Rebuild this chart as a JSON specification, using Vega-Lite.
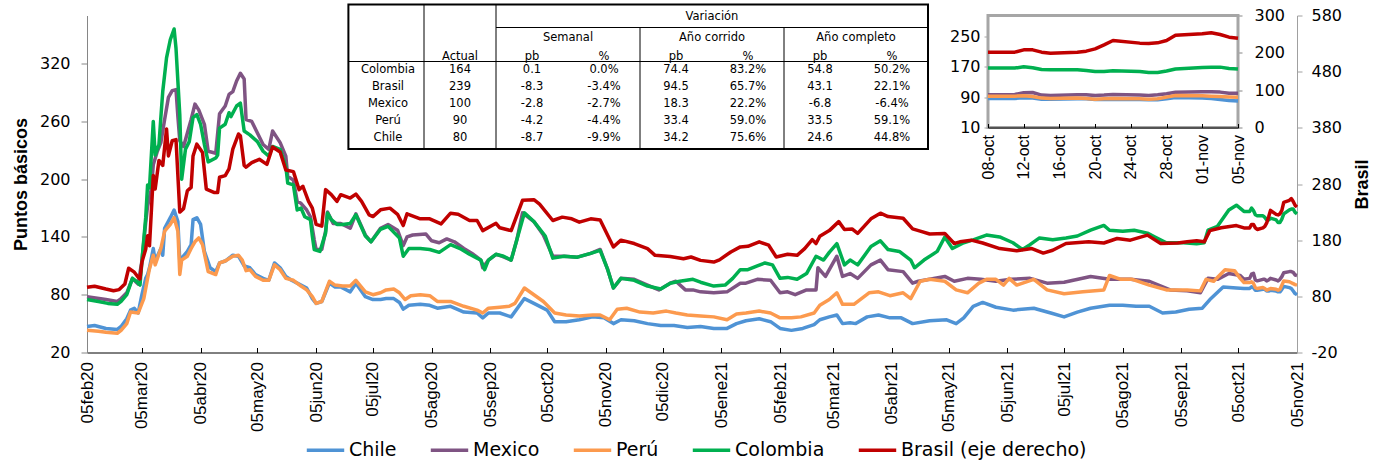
{
"$schema":"https://vega.github.io/schema/vega-lite/v6.json",
"width":1210,"height":337,
"autosize":{"type":"none"},
"padding":{"left":87,"top":15.5,"right":89,"bottom":111.5},
"background":"white",
"config":{"view":{"stroke":null},"font":"DejaVu Sans","axis":{"grid":false}},
"datasets":{
"cds":[
{"d":"2020-02-05","s":"Chile","v":47},{"d":"2020-02-09","s":"Chile","v":48},{"d":"2020-02-15","s":"Chile","v":45},{"d":"2020-02-21","s":"Chile","v":44},{"d":"2020-02-23","s":"Chile","v":47},{"d":"2020-02-26","s":"Chile","v":55},{"d":"2020-02-28","s":"Chile","v":64},{"d":"2020-03-01","s":"Chile","v":66},{"d":"2020-03-03","s":"Chile","v":61},{"d":"2020-03-05","s":"Chile","v":80},{"d":"2020-03-07","s":"Chile","v":97},{"d":"2020-03-08","s":"Chile","v":101},{"d":"2020-03-09","s":"Chile","v":108},{"d":"2020-03-11","s":"Chile","v":128},{"d":"2020-03-12","s":"Chile","v":115},{"d":"2020-03-15","s":"Chile","v":128},{"d":"2020-03-16","s":"Chile","v":121},{"d":"2020-03-17","s":"Chile","v":149},{"d":"2020-03-20","s":"Chile","v":160},{"d":"2020-03-22","s":"Chile","v":168},{"d":"2020-03-24","s":"Chile","v":156},{"d":"2020-03-25","s":"Chile","v":115},{"d":"2020-03-26","s":"Chile","v":118},{"d":"2020-03-29","s":"Chile","v":125},{"d":"2020-03-31","s":"Chile","v":132},{"d":"2020-04-01","s":"Chile","v":158},{"d":"2020-04-03","s":"Chile","v":160},{"d":"2020-04-05","s":"Chile","v":153},{"d":"2020-04-07","s":"Chile","v":125},{"d":"2020-04-10","s":"Chile","v":108},{"d":"2020-04-13","s":"Chile","v":104},{"d":"2020-04-15","s":"Chile","v":113},{"d":"2020-04-18","s":"Chile","v":115},{"d":"2020-04-20","s":"Chile","v":118},{"d":"2020-04-22","s":"Chile","v":121},{"d":"2020-04-25","s":"Chile","v":120},{"d":"2020-04-28","s":"Chile","v":110},{"d":"2020-05-01","s":"Chile","v":108},{"d":"2020-05-04","s":"Chile","v":101},{"d":"2020-05-08","s":"Chile","v":97},{"d":"2020-05-11","s":"Chile","v":95},{"d":"2020-05-14","s":"Chile","v":113},{"d":"2020-05-17","s":"Chile","v":108},{"d":"2020-05-20","s":"Chile","v":99},{"d":"2020-05-23","s":"Chile","v":95},{"d":"2020-05-26","s":"Chile","v":92},{"d":"2020-05-28","s":"Chile","v":90},{"d":"2020-05-31","s":"Chile","v":87},{"d":"2020-06-03","s":"Chile","v":76},{"d":"2020-06-05","s":"Chile","v":71},{"d":"2020-06-08","s":"Chile","v":73},{"d":"2020-06-12","s":"Chile","v":92},{"d":"2020-06-15","s":"Chile","v":88},{"d":"2020-06-18","s":"Chile","v":88},{"d":"2020-06-23","s":"Chile","v":83},{"d":"2020-06-26","s":"Chile","v":92},{"d":"2020-07-01","s":"Chile","v":78},{"d":"2020-07-05","s":"Chile","v":75},{"d":"2020-07-09","s":"Chile","v":75},{"d":"2020-07-12","s":"Chile","v":76},{"d":"2020-07-16","s":"Chile","v":76},{"d":"2020-07-19","s":"Chile","v":72},{"d":"2020-07-21","s":"Chile","v":65},{"d":"2020-07-24","s":"Chile","v":69},{"d":"2020-07-30","s":"Chile","v":70},{"d":"2020-08-04","s":"Chile","v":69},{"d":"2020-08-08","s":"Chile","v":66},{"d":"2020-08-15","s":"Chile","v":68},{"d":"2020-08-22","s":"Chile","v":62},{"d":"2020-08-29","s":"Chile","v":61},{"d":"2020-09-01","s":"Chile","v":56},{"d":"2020-09-04","s":"Chile","v":61},{"d":"2020-09-10","s":"Chile","v":61},{"d":"2020-09-16","s":"Chile","v":57},{"d":"2020-09-23","s":"Chile","v":76},{"d":"2020-09-28","s":"Chile","v":71},{"d":"2020-10-05","s":"Chile","v":64},{"d":"2020-10-09","s":"Chile","v":52},{"d":"2020-10-15","s":"Chile","v":52},{"d":"2020-10-22","s":"Chile","v":54},{"d":"2020-10-29","s":"Chile","v":57},{"d":"2020-11-04","s":"Chile","v":56},{"d":"2020-11-09","s":"Chile","v":50},{"d":"2020-11-13","s":"Chile","v":54},{"d":"2020-11-20","s":"Chile","v":53},{"d":"2020-11-27","s":"Chile","v":50},{"d":"2020-12-04","s":"Chile","v":48},{"d":"2020-12-11","s":"Chile","v":48},{"d":"2020-12-18","s":"Chile","v":46},{"d":"2020-12-25","s":"Chile","v":47},{"d":"2021-01-01","s":"Chile","v":45},{"d":"2021-01-08","s":"Chile","v":45},{"d":"2021-01-13","s":"Chile","v":50},{"d":"2021-01-18","s":"Chile","v":53},{"d":"2021-01-25","s":"Chile","v":55},{"d":"2021-01-31","s":"Chile","v":52},{"d":"2021-02-05","s":"Chile","v":45},{"d":"2021-02-11","s":"Chile","v":43},{"d":"2021-02-17","s":"Chile","v":45},{"d":"2021-02-23","s":"Chile","v":49},{"d":"2021-02-26","s":"Chile","v":54},{"d":"2021-03-03","s":"Chile","v":57},{"d":"2021-03-07","s":"Chile","v":59},{"d":"2021-03-10","s":"Chile","v":50},{"d":"2021-03-14","s":"Chile","v":51},{"d":"2021-03-17","s":"Chile","v":50},{"d":"2021-03-23","s":"Chile","v":57},{"d":"2021-03-29","s":"Chile","v":59},{"d":"2021-04-04","s":"Chile","v":56},{"d":"2021-04-10","s":"Chile","v":56},{"d":"2021-04-16","s":"Chile","v":50},{"d":"2021-04-25","s":"Chile","v":53},{"d":"2021-05-04","s":"Chile","v":54},{"d":"2021-05-09","s":"Chile","v":50},{"d":"2021-05-13","s":"Chile","v":56},{"d":"2021-05-18","s":"Chile","v":68},{"d":"2021-05-23","s":"Chile","v":72},{"d":"2021-05-30","s":"Chile","v":67},{"d":"2021-06-08","s":"Chile","v":64},{"d":"2021-06-19","s":"Chile","v":66},{"d":"2021-06-28","s":"Chile","v":61},{"d":"2021-07-05","s":"Chile","v":57},{"d":"2021-07-12","s":"Chile","v":62},{"d":"2021-07-19","s":"Chile","v":66},{"d":"2021-07-29","s":"Chile","v":69},{"d":"2021-08-05","s":"Chile","v":69},{"d":"2021-08-12","s":"Chile","v":68},{"d":"2021-08-19","s":"Chile","v":68},{"d":"2021-08-26","s":"Chile","v":61},{"d":"2021-09-02","s":"Chile","v":62},{"d":"2021-09-09","s":"Chile","v":65},{"d":"2021-09-16","s":"Chile","v":66},{"d":"2021-09-20","s":"Chile","v":75},{"d":"2021-09-27","s":"Chile","v":88},{"d":"2021-10-04","s":"Chile","v":87},
{"d":"2021-10-08","s":"Chile","v":86.5},{"d":"2021-10-11","s":"Chile","v":86.5},{"d":"2021-10-12","s":"Chile","v":88.2},{"d":"2021-10-13","s":"Chile","v":87.4},{"d":"2021-10-14","s":"Chile","v":84.7},{"d":"2021-10-15","s":"Chile","v":84.7},{"d":"2021-10-18","s":"Chile","v":85.6},{"d":"2021-10-19","s":"Chile","v":85.6},{"d":"2021-10-20","s":"Chile","v":83.8},{"d":"2021-10-21","s":"Chile","v":83.8},{"d":"2021-10-22","s":"Chile","v":84.7},{"d":"2021-10-25","s":"Chile","v":83.8},{"d":"2021-10-26","s":"Chile","v":83},{"d":"2021-10-27","s":"Chile","v":83},{"d":"2021-10-28","s":"Chile","v":85.6},{"d":"2021-10-29","s":"Chile","v":88.7},{"d":"2021-11-01","s":"Chile","v":87.4},{"d":"2021-11-02","s":"Chile","v":86.5},{"d":"2021-11-03","s":"Chile","v":83.8},{"d":"2021-11-04","s":"Chile","v":81.2},{"d":"2021-11-05","s":"Chile","v":80},
{"d":"2020-02-05","s":"Mexico","v":78},{"d":"2020-02-15","s":"Mexico","v":75},{"d":"2020-02-21","s":"Mexico","v":73},{"d":"2020-02-23","s":"Mexico","v":76},{"d":"2020-02-26","s":"Mexico","v":82},{"d":"2020-02-29","s":"Mexico","v":97},{"d":"2020-03-02","s":"Mexico","v":93},{"d":"2020-03-03","s":"Mexico","v":91},{"d":"2020-03-05","s":"Mexico","v":115},{"d":"2020-03-07","s":"Mexico","v":155},{"d":"2020-03-08","s":"Mexico","v":172},{"d":"2020-03-10","s":"Mexico","v":190},{"d":"2020-03-11","s":"Mexico","v":215},{"d":"2020-03-13","s":"Mexico","v":228},{"d":"2020-03-15","s":"Mexico","v":238},{"d":"2020-03-17","s":"Mexico","v":262},{"d":"2020-03-19","s":"Mexico","v":285},{"d":"2020-03-21","s":"Mexico","v":292},{"d":"2020-03-23","s":"Mexico","v":293},{"d":"2020-03-24","s":"Mexico","v":265},{"d":"2020-03-25","s":"Mexico","v":240},{"d":"2020-03-27","s":"Mexico","v":234},{"d":"2020-03-31","s":"Mexico","v":262},{"d":"2020-04-02","s":"Mexico","v":278},{"d":"2020-04-04","s":"Mexico","v":272},{"d":"2020-04-07","s":"Mexico","v":257},{"d":"2020-04-09","s":"Mexico","v":229},{"d":"2020-04-13","s":"Mexico","v":227},{"d":"2020-04-15","s":"Mexico","v":268},{"d":"2020-04-18","s":"Mexico","v":276},{"d":"2020-04-20","s":"Mexico","v":288},{"d":"2020-04-22","s":"Mexico","v":291},{"d":"2020-04-24","s":"Mexico","v":302},{"d":"2020-04-26","s":"Mexico","v":310},{"d":"2020-04-28","s":"Mexico","v":304},{"d":"2020-04-29","s":"Mexico","v":262},{"d":"2020-05-02","s":"Mexico","v":260},{"d":"2020-05-05","s":"Mexico","v":248},{"d":"2020-05-08","s":"Mexico","v":236},{"d":"2020-05-11","s":"Mexico","v":231},{"d":"2020-05-13","s":"Mexico","v":250},{"d":"2020-05-17","s":"Mexico","v":238},{"d":"2020-05-20","s":"Mexico","v":224},{"d":"2020-05-21","s":"Mexico","v":203},{"d":"2020-05-24","s":"Mexico","v":199},{"d":"2020-05-26","s":"Mexico","v":177},{"d":"2020-05-28","s":"Mexico","v":175},{"d":"2020-05-31","s":"Mexico","v":168},{"d":"2020-06-02","s":"Mexico","v":161},{"d":"2020-06-04","s":"Mexico","v":137},{"d":"2020-06-05","s":"Mexico","v":127},{"d":"2020-06-08","s":"Mexico","v":127},{"d":"2020-06-10","s":"Mexico","v":146},{"d":"2020-06-11","s":"Mexico","v":166},{"d":"2020-06-14","s":"Mexico","v":154},{"d":"2020-06-18","s":"Mexico","v":154},{"d":"2020-06-23","s":"Mexico","v":149},{"d":"2020-06-26","s":"Mexico","v":164},{"d":"2020-07-01","s":"Mexico","v":142},{"d":"2020-07-04","s":"Mexico","v":135},{"d":"2020-07-09","s":"Mexico","v":149},{"d":"2020-07-13","s":"Mexico","v":153},{"d":"2020-07-18","s":"Mexico","v":147},{"d":"2020-07-21","s":"Mexico","v":131},{"d":"2020-07-23","s":"Mexico","v":140},{"d":"2020-07-26","s":"Mexico","v":142},{"d":"2020-08-02","s":"Mexico","v":143},{"d":"2020-08-05","s":"Mexico","v":136},{"d":"2020-08-09","s":"Mexico","v":134},{"d":"2020-08-13","s":"Mexico","v":138},{"d":"2020-08-17","s":"Mexico","v":135},{"d":"2020-08-22","s":"Mexico","v":128},{"d":"2020-08-27","s":"Mexico","v":122},{"d":"2020-08-31","s":"Mexico","v":116},{"d":"2020-09-01","s":"Mexico","v":108},{"d":"2020-09-04","s":"Mexico","v":116},{"d":"2020-09-08","s":"Mexico","v":122},{"d":"2020-09-11","s":"Mexico","v":120},{"d":"2020-09-16","s":"Mexico","v":116},{"d":"2020-09-19","s":"Mexico","v":137},{"d":"2020-09-22","s":"Mexico","v":165},{"d":"2020-09-28","s":"Mexico","v":156},{"d":"2020-10-03","s":"Mexico","v":142},{"d":"2020-10-08","s":"Mexico","v":120},{"d":"2020-10-14","s":"Mexico","v":120},{"d":"2020-10-21","s":"Mexico","v":119},{"d":"2020-10-28","s":"Mexico","v":123},{"d":"2020-11-02","s":"Mexico","v":127},{"d":"2020-11-06","s":"Mexico","v":106},{"d":"2020-11-09","s":"Mexico","v":87},{"d":"2020-11-13","s":"Mexico","v":97},{"d":"2020-11-20","s":"Mexico","v":96},{"d":"2020-11-27","s":"Mexico","v":90},{"d":"2020-12-03","s":"Mexico","v":85},{"d":"2020-12-09","s":"Mexico","v":92},{"d":"2020-12-12","s":"Mexico","v":94},{"d":"2020-12-17","s":"Mexico","v":85},{"d":"2020-12-21","s":"Mexico","v":85},{"d":"2020-12-25","s":"Mexico","v":83},{"d":"2021-01-01","s":"Mexico","v":82},{"d":"2021-01-08","s":"Mexico","v":83},{"d":"2021-01-15","s":"Mexico","v":92},{"d":"2021-01-18","s":"Mexico","v":92},{"d":"2021-01-24","s":"Mexico","v":96},{"d":"2021-01-31","s":"Mexico","v":95},{"d":"2021-02-05","s":"Mexico","v":82},{"d":"2021-02-09","s":"Mexico","v":83},{"d":"2021-02-13","s":"Mexico","v":80},{"d":"2021-02-19","s":"Mexico","v":85},{"d":"2021-02-24","s":"Mexico","v":85},{"d":"2021-02-25","s":"Mexico","v":108},{"d":"2021-03-01","s":"Mexico","v":99},{"d":"2021-03-07","s":"Mexico","v":120},{"d":"2021-03-10","s":"Mexico","v":99},{"d":"2021-03-14","s":"Mexico","v":102},{"d":"2021-03-18","s":"Mexico","v":97},{"d":"2021-03-25","s":"Mexico","v":111},{"d":"2021-03-30","s":"Mexico","v":116},{"d":"2021-04-03","s":"Mexico","v":106},{"d":"2021-04-11","s":"Mexico","v":104},{"d":"2021-04-16","s":"Mexico","v":92},{"d":"2021-04-19","s":"Mexico","v":94},{"d":"2021-04-25","s":"Mexico","v":96},{"d":"2021-05-03","s":"Mexico","v":99},{"d":"2021-05-08","s":"Mexico","v":94},{"d":"2021-05-15","s":"Mexico","v":97},{"d":"2021-05-22","s":"Mexico","v":96},{"d":"2021-05-30","s":"Mexico","v":94},{"d":"2021-06-07","s":"Mexico","v":96},{"d":"2021-06-17","s":"Mexico","v":97},{"d":"2021-06-26","s":"Mexico","v":92},{"d":"2021-07-05","s":"Mexico","v":93},{"d":"2021-07-19","s":"Mexico","v":99},{"d":"2021-07-29","s":"Mexico","v":96},{"d":"2021-08-09","s":"Mexico","v":96},{"d":"2021-08-19","s":"Mexico","v":94},{"d":"2021-08-30","s":"Mexico","v":85},{"d":"2021-09-08","s":"Mexico","v":84},{"d":"2021-09-15","s":"Mexico","v":82},{"d":"2021-09-19","s":"Mexico","v":97},{"d":"2021-09-24","s":"Mexico","v":96},{"d":"2021-09-30","s":"Mexico","v":102},{"d":"2021-10-06","s":"Mexico","v":100},
{"d":"2021-10-08","s":"Mexico","v":96},{"d":"2021-10-11","s":"Mexico","v":97},{"d":"2021-10-12","s":"Mexico","v":101.4},{"d":"2021-10-13","s":"Mexico","v":102.3},{"d":"2021-10-14","s":"Mexico","v":95.3},{"d":"2021-10-15","s":"Mexico","v":94.4},{"d":"2021-10-18","s":"Mexico","v":96},{"d":"2021-10-19","s":"Mexico","v":96},{"d":"2021-10-20","s":"Mexico","v":94.4},{"d":"2021-10-21","s":"Mexico","v":95.3},{"d":"2021-10-22","s":"Mexico","v":97},{"d":"2021-10-25","s":"Mexico","v":95.3},{"d":"2021-10-26","s":"Mexico","v":94.4},{"d":"2021-10-27","s":"Mexico","v":96},{"d":"2021-10-28","s":"Mexico","v":98.8},{"d":"2021-10-29","s":"Mexico","v":102.8},{"d":"2021-11-01","s":"Mexico","v":104},{"d":"2021-11-02","s":"Mexico","v":104},{"d":"2021-11-03","s":"Mexico","v":103.2},{"d":"2021-11-04","s":"Mexico","v":100.5},{"d":"2021-11-05","s":"Mexico","v":100},
{"d":"2020-02-05","s":"Perú","v":43},{"d":"2020-02-11","s":"Perú","v":42},{"d":"2020-02-15","s":"Perú","v":41},{"d":"2020-02-21","s":"Perú","v":40},{"d":"2020-02-23","s":"Perú","v":43},{"d":"2020-02-26","s":"Perú","v":50},{"d":"2020-02-28","s":"Perú","v":62},{"d":"2020-03-03","s":"Perú","v":61},{"d":"2020-03-06","s":"Perú","v":76},{"d":"2020-03-08","s":"Perú","v":97},{"d":"2020-03-09","s":"Perú","v":107},{"d":"2020-03-11","s":"Perú","v":121},{"d":"2020-03-12","s":"Perú","v":111},{"d":"2020-03-15","s":"Perú","v":128},{"d":"2020-03-17","s":"Perú","v":146},{"d":"2020-03-20","s":"Perú","v":153},{"d":"2020-03-22","s":"Perú","v":160},{"d":"2020-03-24","s":"Perú","v":146},{"d":"2020-03-25","s":"Perú","v":101},{"d":"2020-03-26","s":"Perú","v":116},{"d":"2020-03-29","s":"Perú","v":120},{"d":"2020-03-31","s":"Perú","v":128},{"d":"2020-04-02","s":"Perú","v":135},{"d":"2020-04-04","s":"Perú","v":139},{"d":"2020-04-06","s":"Perú","v":132},{"d":"2020-04-09","s":"Perú","v":104},{"d":"2020-04-13","s":"Perú","v":101},{"d":"2020-04-15","s":"Perú","v":113},{"d":"2020-04-18","s":"Perú","v":115},{"d":"2020-04-22","s":"Perú","v":120},{"d":"2020-04-25","s":"Perú","v":121},{"d":"2020-04-27","s":"Perú","v":116},{"d":"2020-04-29","s":"Perú","v":105},{"d":"2020-05-01","s":"Perú","v":106},{"d":"2020-05-04","s":"Perú","v":99},{"d":"2020-05-08","s":"Perú","v":95},{"d":"2020-05-11","s":"Perú","v":95},{"d":"2020-05-14","s":"Perú","v":111},{"d":"2020-05-17","s":"Perú","v":106},{"d":"2020-05-20","s":"Perú","v":97},{"d":"2020-05-24","s":"Perú","v":95},{"d":"2020-05-28","s":"Perú","v":89},{"d":"2020-05-31","s":"Perú","v":85},{"d":"2020-06-03","s":"Perú","v":78},{"d":"2020-06-05","s":"Perú","v":71},{"d":"2020-06-08","s":"Perú","v":73},{"d":"2020-06-12","s":"Perú","v":94},{"d":"2020-06-15","s":"Perú","v":90},{"d":"2020-06-19","s":"Perú","v":89},{"d":"2020-06-23","s":"Perú","v":89},{"d":"2020-06-26","s":"Perú","v":95},{"d":"2020-07-01","s":"Perú","v":83},{"d":"2020-07-05","s":"Perú","v":80},{"d":"2020-07-09","s":"Perú","v":82},{"d":"2020-07-12","s":"Perú","v":85},{"d":"2020-07-16","s":"Perú","v":86},{"d":"2020-07-19","s":"Perú","v":82},{"d":"2020-07-22","s":"Perú","v":75},{"d":"2020-07-25","s":"Perú","v":79},{"d":"2020-07-30","s":"Perú","v":80},{"d":"2020-08-04","s":"Perú","v":79},{"d":"2020-08-08","s":"Perú","v":73},{"d":"2020-08-15","s":"Perú","v":73},{"d":"2020-08-22","s":"Perú","v":68},{"d":"2020-08-29","s":"Perú","v":64},{"d":"2020-09-01","s":"Perú","v":61},{"d":"2020-09-04","s":"Perú","v":66},{"d":"2020-09-10","s":"Perú","v":67},{"d":"2020-09-15","s":"Perú","v":68},{"d":"2020-09-18","s":"Perú","v":71},{"d":"2020-09-23","s":"Perú","v":87},{"d":"2020-09-28","s":"Perú","v":80},{"d":"2020-10-03","s":"Perú","v":73},{"d":"2020-10-09","s":"Perú","v":61},{"d":"2020-10-15","s":"Perú","v":59},{"d":"2020-10-22","s":"Perú","v":58},{"d":"2020-10-29","s":"Perú","v":59},{"d":"2020-11-02","s":"Perú","v":59},{"d":"2020-11-07","s":"Perú","v":54},{"d":"2020-11-11","s":"Perú","v":65},{"d":"2020-11-16","s":"Perú","v":66},{"d":"2020-11-23","s":"Perú","v":62},{"d":"2020-11-30","s":"Perú","v":61},{"d":"2020-12-07","s":"Perú","v":63},{"d":"2020-12-12","s":"Perú","v":61},{"d":"2020-12-18","s":"Perú","v":59},{"d":"2020-12-25","s":"Perú","v":58},{"d":"2021-01-01","s":"Perú","v":57},{"d":"2021-01-08","s":"Perú","v":54},{"d":"2021-01-13","s":"Perú","v":60},{"d":"2021-01-18","s":"Perú","v":61},{"d":"2021-01-25","s":"Perú","v":63},{"d":"2021-01-31","s":"Perú","v":61},{"d":"2021-02-05","s":"Perú","v":56},{"d":"2021-02-11","s":"Perú","v":56},{"d":"2021-02-16","s":"Perú","v":57},{"d":"2021-02-23","s":"Perú","v":61},{"d":"2021-02-26","s":"Perú","v":69},{"d":"2021-03-03","s":"Perú","v":75},{"d":"2021-03-07","s":"Perú","v":82},{"d":"2021-03-10","s":"Perú","v":70},{"d":"2021-03-16","s":"Perú","v":70},{"d":"2021-03-24","s":"Perú","v":82},{"d":"2021-03-29","s":"Perú","v":83},{"d":"2021-04-04","s":"Perú","v":79},{"d":"2021-04-11","s":"Perú","v":82},{"d":"2021-04-15","s":"Perú","v":76},{"d":"2021-04-20","s":"Perú","v":94},{"d":"2021-04-25","s":"Perú","v":96},{"d":"2021-05-03","s":"Perú","v":94},{"d":"2021-05-09","s":"Perú","v":85},{"d":"2021-05-15","s":"Perú","v":82},{"d":"2021-05-21","s":"Perú","v":92},{"d":"2021-05-25","s":"Perú","v":96},{"d":"2021-05-30","s":"Perú","v":96},{"d":"2021-06-03","s":"Perú","v":90},{"d":"2021-06-06","s":"Perú","v":97},{"d":"2021-06-10","s":"Perú","v":90},{"d":"2021-06-19","s":"Perú","v":96},{"d":"2021-06-26","s":"Perú","v":85},{"d":"2021-07-05","s":"Perú","v":81},{"d":"2021-07-15","s":"Perú","v":83},{"d":"2021-07-26","s":"Perú","v":85},{"d":"2021-07-29","s":"Perú","v":100},{"d":"2021-08-04","s":"Perú","v":96},{"d":"2021-08-10","s":"Perú","v":96},{"d":"2021-08-19","s":"Perú","v":90},{"d":"2021-08-28","s":"Perú","v":85},{"d":"2021-09-08","s":"Perú","v":85},{"d":"2021-09-15","s":"Perú","v":84},{"d":"2021-09-18","s":"Perú","v":96},{"d":"2021-09-22","s":"Perú","v":94},{"d":"2021-09-28","s":"Perú","v":106},{"d":"2021-10-03","s":"Perú","v":105},{"d":"2021-10-06","s":"Perú","v":97},
{"d":"2021-10-08","s":"Perú","v":92.6},{"d":"2021-10-11","s":"Perú","v":92.6},{"d":"2021-10-12","s":"Perú","v":93.5},{"d":"2021-10-13","s":"Perú","v":91.8},{"d":"2021-10-14","s":"Perú","v":87.4},{"d":"2021-10-15","s":"Perú","v":86.5},{"d":"2021-10-18","s":"Perú","v":87.4},{"d":"2021-10-19","s":"Perú","v":86.5},{"d":"2021-10-20","s":"Perú","v":84.7},{"d":"2021-10-21","s":"Perú","v":85.6},{"d":"2021-10-22","s":"Perú","v":86.5},{"d":"2021-10-25","s":"Perú","v":85.6},{"d":"2021-10-26","s":"Perú","v":84.7},{"d":"2021-10-27","s":"Perú","v":85.6},{"d":"2021-10-28","s":"Perú","v":90},{"d":"2021-10-29","s":"Perú","v":94.2},{"d":"2021-11-01","s":"Perú","v":93.5},{"d":"2021-11-02","s":"Perú","v":92.5},{"d":"2021-11-03","s":"Perú","v":91.5},{"d":"2021-11-04","s":"Perú","v":90.5},{"d":"2021-11-05","s":"Perú","v":90},
{"d":"2020-02-05","s":"Colombia","v":75},{"d":"2020-02-11","s":"Colombia","v":73},{"d":"2020-02-16","s":"Colombia","v":71},{"d":"2020-02-21","s":"Colombia","v":70},{"d":"2020-02-23","s":"Colombia","v":73},{"d":"2020-02-26","s":"Colombia","v":80},{"d":"2020-02-29","s":"Colombia","v":97},{"d":"2020-03-02","s":"Colombia","v":94},{"d":"2020-03-04","s":"Colombia","v":90},{"d":"2020-03-05","s":"Colombia","v":115},{"d":"2020-03-07","s":"Colombia","v":160},{"d":"2020-03-08","s":"Colombia","v":194},{"d":"2020-03-09","s":"Colombia","v":191},{"d":"2020-03-11","s":"Colombia","v":260},{"d":"2020-03-12","s":"Colombia","v":225},{"d":"2020-03-14","s":"Colombia","v":236},{"d":"2020-03-15","s":"Colombia","v":264},{"d":"2020-03-16","s":"Colombia","v":291},{"d":"2020-03-18","s":"Colombia","v":326},{"d":"2020-03-20","s":"Colombia","v":345},{"d":"2020-03-22","s":"Colombia","v":356},{"d":"2020-03-23","s":"Colombia","v":336},{"d":"2020-03-25","s":"Colombia","v":267},{"d":"2020-03-26","s":"Colombia","v":200},{"d":"2020-03-28","s":"Colombia","v":231},{"d":"2020-03-30","s":"Colombia","v":239},{"d":"2020-04-01","s":"Colombia","v":264},{"d":"2020-04-03","s":"Colombia","v":267},{"d":"2020-04-05","s":"Colombia","v":257},{"d":"2020-04-07","s":"Colombia","v":236},{"d":"2020-04-09","s":"Colombia","v":218},{"d":"2020-04-13","s":"Colombia","v":222},{"d":"2020-04-14","s":"Colombia","v":225},{"d":"2020-04-15","s":"Colombia","v":253},{"d":"2020-04-18","s":"Colombia","v":257},{"d":"2020-04-20","s":"Colombia","v":269},{"d":"2020-04-21","s":"Colombia","v":265},{"d":"2020-04-24","s":"Colombia","v":276},{"d":"2020-04-26","s":"Colombia","v":279},{"d":"2020-04-28","s":"Colombia","v":250},{"d":"2020-05-01","s":"Colombia","v":246},{"d":"2020-05-05","s":"Colombia","v":239},{"d":"2020-05-08","s":"Colombia","v":229},{"d":"2020-05-11","s":"Colombia","v":224},{"d":"2020-05-13","s":"Colombia","v":234},{"d":"2020-05-17","s":"Colombia","v":231},{"d":"2020-05-20","s":"Colombia","v":213},{"d":"2020-05-21","s":"Colombia","v":196},{"d":"2020-05-24","s":"Colombia","v":194},{"d":"2020-05-26","s":"Colombia","v":168},{"d":"2020-05-28","s":"Colombia","v":170},{"d":"2020-05-30","s":"Colombia","v":161},{"d":"2020-06-02","s":"Colombia","v":158},{"d":"2020-06-03","s":"Colombia","v":141},{"d":"2020-06-04","s":"Colombia","v":127},{"d":"2020-06-07","s":"Colombia","v":125},{"d":"2020-06-10","s":"Colombia","v":144},{"d":"2020-06-11","s":"Colombia","v":165},{"d":"2020-06-13","s":"Colombia","v":158},{"d":"2020-06-16","s":"Colombia","v":153},{"d":"2020-06-19","s":"Colombia","v":153},{"d":"2020-06-23","s":"Colombia","v":154},{"d":"2020-06-26","s":"Colombia","v":163},{"d":"2020-07-01","s":"Colombia","v":141},{"d":"2020-07-04","s":"Colombia","v":135},{"d":"2020-07-09","s":"Colombia","v":148},{"d":"2020-07-13","s":"Colombia","v":151},{"d":"2020-07-18","s":"Colombia","v":141},{"d":"2020-07-19","s":"Colombia","v":139},{"d":"2020-07-21","s":"Colombia","v":120},{"d":"2020-07-24","s":"Colombia","v":128},{"d":"2020-07-30","s":"Colombia","v":128},{"d":"2020-08-04","s":"Colombia","v":127},{"d":"2020-08-09","s":"Colombia","v":124},{"d":"2020-08-15","s":"Colombia","v":132},{"d":"2020-08-20","s":"Colombia","v":128},{"d":"2020-08-25","s":"Colombia","v":122},{"d":"2020-08-31","s":"Colombia","v":116},{"d":"2020-09-02","s":"Colombia","v":106},{"d":"2020-09-04","s":"Colombia","v":116},{"d":"2020-09-08","s":"Colombia","v":122},{"d":"2020-09-12","s":"Colombia","v":120},{"d":"2020-09-16","s":"Colombia","v":116},{"d":"2020-09-19","s":"Colombia","v":137},{"d":"2020-09-23","s":"Colombia","v":165},{"d":"2020-09-28","s":"Colombia","v":156},{"d":"2020-10-04","s":"Colombia","v":141},{"d":"2020-10-08","s":"Colombia","v":118},{"d":"2020-10-14","s":"Colombia","v":120},{"d":"2020-10-21","s":"Colombia","v":119},{"d":"2020-10-28","s":"Colombia","v":123},{"d":"2020-11-02","s":"Colombia","v":126},{"d":"2020-11-06","s":"Colombia","v":106},{"d":"2020-11-09","s":"Colombia","v":87},{"d":"2020-11-13","s":"Colombia","v":97},{"d":"2020-11-20","s":"Colombia","v":95},{"d":"2020-11-27","s":"Colombia","v":89},{"d":"2020-12-04","s":"Colombia","v":86},{"d":"2020-12-09","s":"Colombia","v":92},{"d":"2020-12-14","s":"Colombia","v":94},{"d":"2020-12-21","s":"Colombia","v":96},{"d":"2020-12-25","s":"Colombia","v":93},{"d":"2021-01-01","s":"Colombia","v":89},{"d":"2021-01-07","s":"Colombia","v":90},{"d":"2021-01-11","s":"Colombia","v":97},{"d":"2021-01-15","s":"Colombia","v":106},{"d":"2021-01-19","s":"Colombia","v":106},{"d":"2021-01-24","s":"Colombia","v":110},{"d":"2021-01-28","s":"Colombia","v":113},{"d":"2021-02-01","s":"Colombia","v":111},{"d":"2021-02-05","s":"Colombia","v":97},{"d":"2021-02-09","s":"Colombia","v":98},{"d":"2021-02-14","s":"Colombia","v":96},{"d":"2021-02-19","s":"Colombia","v":102},{"d":"2021-02-24","s":"Colombia","v":120},{"d":"2021-02-28","s":"Colombia","v":116},{"d":"2021-03-03","s":"Colombia","v":124},{"d":"2021-03-07","s":"Colombia","v":133},{"d":"2021-03-11","s":"Colombia","v":111},{"d":"2021-03-14","s":"Colombia","v":116},{"d":"2021-03-18","s":"Colombia","v":111},{"d":"2021-03-25","s":"Colombia","v":130},{"d":"2021-03-30","s":"Colombia","v":136},{"d":"2021-04-03","s":"Colombia","v":127},{"d":"2021-04-09","s":"Colombia","v":125},{"d":"2021-04-15","s":"Colombia","v":116},{"d":"2021-04-17","s":"Colombia","v":108},{"d":"2021-04-22","s":"Colombia","v":116},{"d":"2021-04-29","s":"Colombia","v":125},{"d":"2021-05-03","s":"Colombia","v":140},{"d":"2021-05-07","s":"Colombia","v":128},{"d":"2021-05-13","s":"Colombia","v":134},{"d":"2021-05-18","s":"Colombia","v":137},{"d":"2021-05-25","s":"Colombia","v":142},{"d":"2021-06-01","s":"Colombia","v":140},{"d":"2021-06-08","s":"Colombia","v":134},{"d":"2021-06-13","s":"Colombia","v":127},{"d":"2021-06-17","s":"Colombia","v":132},{"d":"2021-06-22","s":"Colombia","v":139},{"d":"2021-06-29","s":"Colombia","v":137},{"d":"2021-07-06","s":"Colombia","v":139},{"d":"2021-07-12","s":"Colombia","v":141},{"d":"2021-07-19","s":"Colombia","v":147},{"d":"2021-07-26","s":"Colombia","v":152},{"d":"2021-07-29","s":"Colombia","v":147},{"d":"2021-08-05","s":"Colombia","v":146},{"d":"2021-08-11","s":"Colombia","v":147},{"d":"2021-08-18","s":"Colombia","v":144},{"d":"2021-08-22","s":"Colombia","v":140},{"d":"2021-08-28","s":"Colombia","v":134},{"d":"2021-09-06","s":"Colombia","v":134},{"d":"2021-09-13","s":"Colombia","v":133},{"d":"2021-09-17","s":"Colombia","v":134},{"d":"2021-09-19","s":"Colombia","v":147},{"d":"2021-09-24","s":"Colombia","v":151},{"d":"2021-09-30","s":"Colombia","v":168},{"d":"2021-10-04","s":"Colombia","v":173},
{"d":"2021-10-08","s":"Colombia","v":166.5},{"d":"2021-10-11","s":"Colombia","v":166.5},{"d":"2021-10-12","s":"Colombia","v":170},{"d":"2021-10-13","s":"Colombia","v":167.4},{"d":"2021-10-14","s":"Colombia","v":163},{"d":"2021-10-15","s":"Colombia","v":162},{"d":"2021-10-18","s":"Colombia","v":162},{"d":"2021-10-19","s":"Colombia","v":160.3},{"d":"2021-10-20","s":"Colombia","v":157.7},{"d":"2021-10-21","s":"Colombia","v":157.7},{"d":"2021-10-22","s":"Colombia","v":159.5},{"d":"2021-10-25","s":"Colombia","v":157.7},{"d":"2021-10-26","s":"Colombia","v":155},{"d":"2021-10-27","s":"Colombia","v":155},{"d":"2021-10-28","s":"Colombia","v":158.6},{"d":"2021-10-29","s":"Colombia","v":163.9},{"d":"2021-11-01","s":"Colombia","v":168.2},{"d":"2021-11-02","s":"Colombia","v":169},{"d":"2021-11-03","s":"Colombia","v":169},{"d":"2021-11-04","s":"Colombia","v":165.6},{"d":"2021-11-05","s":"Colombia","v":164},
{"d":"2020-02-05","s":"Brasil","v":96},{"d":"2020-02-09","s":"Brasil","v":98},{"d":"2020-02-15","s":"Brasil","v":93},{"d":"2020-02-19","s":"Brasil","v":90},{"d":"2020-02-22","s":"Brasil","v":92},{"d":"2020-02-25","s":"Brasil","v":102},{"d":"2020-02-27","s":"Brasil","v":130},{"d":"2020-03-01","s":"Brasil","v":123},{"d":"2020-03-03","s":"Brasil","v":114},{"d":"2020-03-04","s":"Brasil","v":111},{"d":"2020-03-05","s":"Brasil","v":141},{"d":"2020-03-07","s":"Brasil","v":164},{"d":"2020-03-08","s":"Brasil","v":188},{"d":"2020-03-09","s":"Brasil","v":170},{"d":"2020-03-11","s":"Brasil","v":295},{"d":"2020-03-12","s":"Brasil","v":271},{"d":"2020-03-14","s":"Brasil","v":322},{"d":"2020-03-16","s":"Brasil","v":313},{"d":"2020-03-18","s":"Brasil","v":378},{"d":"2020-03-19","s":"Brasil","v":330},{"d":"2020-03-21","s":"Brasil","v":357},{"d":"2020-03-23","s":"Brasil","v":359},{"d":"2020-03-24","s":"Brasil","v":295},{"d":"2020-03-25","s":"Brasil","v":230},{"d":"2020-03-27","s":"Brasil","v":236},{"d":"2020-03-29","s":"Brasil","v":268},{"d":"2020-03-31","s":"Brasil","v":274},{"d":"2020-04-01","s":"Brasil","v":330},{"d":"2020-04-03","s":"Brasil","v":351},{"d":"2020-04-06","s":"Brasil","v":336},{"d":"2020-04-08","s":"Brasil","v":271},{"d":"2020-04-12","s":"Brasil","v":265},{"d":"2020-04-14","s":"Brasil","v":265},{"d":"2020-04-15","s":"Brasil","v":292},{"d":"2020-04-18","s":"Brasil","v":295},{"d":"2020-04-20","s":"Brasil","v":307},{"d":"2020-04-22","s":"Brasil","v":342},{"d":"2020-04-25","s":"Brasil","v":369},{"d":"2020-04-26","s":"Brasil","v":366},{"d":"2020-04-28","s":"Brasil","v":313},{"d":"2020-04-29","s":"Brasil","v":310},{"d":"2020-05-02","s":"Brasil","v":318},{"d":"2020-05-06","s":"Brasil","v":324},{"d":"2020-05-10","s":"Brasil","v":315},{"d":"2020-05-13","s":"Brasil","v":346},{"d":"2020-05-17","s":"Brasil","v":337},{"d":"2020-05-20","s":"Brasil","v":305},{"d":"2020-05-24","s":"Brasil","v":302},{"d":"2020-05-27","s":"Brasil","v":270},{"d":"2020-05-29","s":"Brasil","v":276},{"d":"2020-06-01","s":"Brasil","v":249},{"d":"2020-06-03","s":"Brasil","v":237},{"d":"2020-06-05","s":"Brasil","v":208},{"d":"2020-06-08","s":"Brasil","v":205},{"d":"2020-06-10","s":"Brasil","v":270},{"d":"2020-06-13","s":"Brasil","v":261},{"d":"2020-06-16","s":"Brasil","v":249},{"d":"2020-06-18","s":"Brasil","v":261},{"d":"2020-06-23","s":"Brasil","v":255},{"d":"2020-06-26","s":"Brasil","v":262},{"d":"2020-06-29","s":"Brasil","v":249},{"d":"2020-07-03","s":"Brasil","v":225},{"d":"2020-07-05","s":"Brasil","v":222},{"d":"2020-07-09","s":"Brasil","v":234},{"d":"2020-07-14","s":"Brasil","v":237},{"d":"2020-07-18","s":"Brasil","v":226},{"d":"2020-07-21","s":"Brasil","v":206},{"d":"2020-07-23","s":"Brasil","v":227},{"d":"2020-07-30","s":"Brasil","v":218},{"d":"2020-08-04","s":"Brasil","v":218},{"d":"2020-08-10","s":"Brasil","v":209},{"d":"2020-08-15","s":"Brasil","v":228},{"d":"2020-08-19","s":"Brasil","v":226},{"d":"2020-08-25","s":"Brasil","v":215},{"d":"2020-08-29","s":"Brasil","v":215},{"d":"2020-09-01","s":"Brasil","v":197},{"d":"2020-09-08","s":"Brasil","v":210},{"d":"2020-09-10","s":"Brasil","v":202},{"d":"2020-09-16","s":"Brasil","v":197},{"d":"2020-09-22","s":"Brasil","v":251},{"d":"2020-09-28","s":"Brasil","v":252},{"d":"2020-10-01","s":"Brasil","v":244},{"d":"2020-10-08","s":"Brasil","v":215},{"d":"2020-10-13","s":"Brasil","v":221},{"d":"2020-10-18","s":"Brasil","v":218},{"d":"2020-10-22","s":"Brasil","v":212},{"d":"2020-10-28","s":"Brasil","v":218},{"d":"2020-11-02","s":"Brasil","v":216},{"d":"2020-11-09","s":"Brasil","v":168},{"d":"2020-11-13","s":"Brasil","v":180},{"d":"2020-11-20","s":"Brasil","v":174},{"d":"2020-11-27","s":"Brasil","v":165},{"d":"2020-12-01","s":"Brasil","v":153},{"d":"2020-12-09","s":"Brasil","v":151},{"d":"2020-12-16","s":"Brasil","v":147},{"d":"2020-12-20","s":"Brasil","v":150},{"d":"2020-12-25","s":"Brasil","v":144},{"d":"2021-01-01","s":"Brasil","v":141},{"d":"2021-01-04","s":"Brasil","v":145},{"d":"2021-01-10","s":"Brasil","v":159},{"d":"2021-01-15","s":"Brasil","v":168},{"d":"2021-01-19","s":"Brasil","v":169},{"d":"2021-01-25","s":"Brasil","v":177},{"d":"2021-01-30","s":"Brasil","v":171},{"d":"2021-02-03","s":"Brasil","v":150},{"d":"2021-02-09","s":"Brasil","v":155},{"d":"2021-02-14","s":"Brasil","v":153},{"d":"2021-02-18","s":"Brasil","v":165},{"d":"2021-02-22","s":"Brasil","v":181},{"d":"2021-02-24","s":"Brasil","v":174},{"d":"2021-02-26","s":"Brasil","v":187},{"d":"2021-03-03","s":"Brasil","v":197},{"d":"2021-03-08","s":"Brasil","v":213},{"d":"2021-03-11","s":"Brasil","v":199},{"d":"2021-03-15","s":"Brasil","v":200},{"d":"2021-03-18","s":"Brasil","v":192},{"d":"2021-03-25","s":"Brasil","v":218},{"d":"2021-03-30","s":"Brasil","v":228},{"d":"2021-04-03","s":"Brasil","v":222},{"d":"2021-04-11","s":"Brasil","v":219},{"d":"2021-04-16","s":"Brasil","v":200},{"d":"2021-04-20","s":"Brasil","v":196},{"d":"2021-04-25","s":"Brasil","v":191},{"d":"2021-05-03","s":"Brasil","v":192},{"d":"2021-05-08","s":"Brasil","v":174},{"d":"2021-05-11","s":"Brasil","v":177},{"d":"2021-05-17","s":"Brasil","v":180},{"d":"2021-05-23","s":"Brasil","v":175},{"d":"2021-06-01","s":"Brasil","v":165},{"d":"2021-06-10","s":"Brasil","v":161},{"d":"2021-06-18","s":"Brasil","v":165},{"d":"2021-06-24","s":"Brasil","v":157},{"d":"2021-06-29","s":"Brasil","v":162},{"d":"2021-07-06","s":"Brasil","v":174},{"d":"2021-07-18","s":"Brasil","v":177},{"d":"2021-07-26","s":"Brasil","v":175},{"d":"2021-08-02","s":"Brasil","v":183},{"d":"2021-08-09","s":"Brasil","v":180},{"d":"2021-08-18","s":"Brasil","v":189},{"d":"2021-08-25","s":"Brasil","v":174},{"d":"2021-09-03","s":"Brasil","v":175},{"d":"2021-09-08","s":"Brasil","v":177},{"d":"2021-09-13","s":"Brasil","v":179},{"d":"2021-09-17","s":"Brasil","v":177},{"d":"2021-09-20","s":"Brasil","v":197},{"d":"2021-09-26","s":"Brasil","v":202},{"d":"2021-10-04","s":"Brasil","v":206},
{"d":"2021-10-08","s":"Brasil","v":201.8},{"d":"2021-10-11","s":"Brasil","v":201.8},{"d":"2021-10-12","s":"Brasil","v":208},{"d":"2021-10-13","s":"Brasil","v":208},{"d":"2021-10-14","s":"Brasil","v":201.8},{"d":"2021-10-15","s":"Brasil","v":199},{"d":"2021-10-18","s":"Brasil","v":201.8},{"d":"2021-10-19","s":"Brasil","v":204.5},{"d":"2021-10-20","s":"Brasil","v":210.7},{"d":"2021-10-21","s":"Brasil","v":221.4},{"d":"2021-10-22","s":"Brasil","v":233},{"d":"2021-10-25","s":"Brasil","v":226},{"d":"2021-10-26","s":"Brasil","v":225},{"d":"2021-10-27","s":"Brasil","v":226.8},{"d":"2021-10-28","s":"Brasil","v":233},{"d":"2021-10-29","s":"Brasil","v":247.3},{"d":"2021-11-01","s":"Brasil","v":251},{"d":"2021-11-02","s":"Brasil","v":254},{"d":"2021-11-03","s":"Brasil","v":249},{"d":"2021-11-04","s":"Brasil","v":242},{"d":"2021-11-05","s":"Brasil","v":239}
],
"tabla":[
{"r":-0.1,"c":4.5,"t":"Variación"},
{"r":1.1,"c":2.5,"t":"Semanal"},{"r":1.1,"c":4.5,"t":"Año corrido"},{"r":1.1,"c":6.5,"t":"Año completo"},
{"r":2.25,"c":1,"t":"Actual"},{"r":2.25,"c":2,"t":"pb"},{"r":2.25,"c":3,"t":"%"},{"r":2.25,"c":4,"t":"pb"},{"r":2.25,"c":5,"t":"%"},{"r":2.25,"c":6,"t":"pb"},{"r":2.25,"c":7,"t":"%"},
{"r":3,"c":0,"t":"Colombia"},{"r":3,"c":1,"t":"164"},{"r":3,"c":2,"t":"0.1"},{"r":3,"c":3,"t":"0.0%"},{"r":3,"c":4,"t":"74.4"},{"r":3,"c":5,"t":"83.2%"},{"r":3,"c":6,"t":"54.8"},{"r":3,"c":7,"t":"50.2%"},
{"r":4,"c":0,"t":"Brasil"},{"r":4,"c":1,"t":"239"},{"r":4,"c":2,"t":"-8.3"},{"r":4,"c":3,"t":"-3.4%"},{"r":4,"c":4,"t":"94.5"},{"r":4,"c":5,"t":"65.7%"},{"r":4,"c":6,"t":"43.1"},{"r":4,"c":7,"t":"22.1%"},
{"r":5,"c":0,"t":"Mexico"},{"r":5,"c":1,"t":"100"},{"r":5,"c":2,"t":"-2.8"},{"r":5,"c":3,"t":"-2.7%"},{"r":5,"c":4,"t":"18.3"},{"r":5,"c":5,"t":"22.2%"},{"r":5,"c":6,"t":"-6.8"},{"r":5,"c":7,"t":"-6.4%"},
{"r":6,"c":0,"t":"Perú"},{"r":6,"c":1,"t":"90"},{"r":6,"c":2,"t":"-4.2"},{"r":6,"c":3,"t":"-4.4%"},{"r":6,"c":4,"t":"33.4"},{"r":6,"c":5,"t":"59.0%"},{"r":6,"c":6,"t":"33.5"},{"r":6,"c":7,"t":"59.1%"},
{"r":7,"c":0,"t":"Chile"},{"r":7,"c":1,"t":"80"},{"r":7,"c":2,"t":"-8.7"},{"r":7,"c":3,"t":"-9.9%"},{"r":7,"c":4,"t":"34.2"},{"r":7,"c":5,"t":"75.6%"},{"r":7,"c":6,"t":"24.6"},{"r":7,"c":7,"t":"44.8%"}
],
"lineas":[
{"x0":0.5,"x1":0.5,"y0":-0.85,"y1":7.65},{"x0":1.5,"x1":1.5,"y0":-0.85,"y1":7.65},{"x0":3.5,"x1":3.5,"y0":0.5,"y1":7.65},{"x0":5.5,"x1":5.5,"y0":0.5,"y1":7.65},{"x0":1.5,"x1":7.5,"y0":0.5,"y1":0.5},{"x0":-0.55,"x1":7.5,"y0":2.5,"y1":2.5}
]
},
"layer":[
{
"data":{"name":"cds"},
"transform":[{"filter":{"field":"s","oneOf":["Chile","Mexico","Perú","Colombia"]}}],
"mark":{"type":"line","strokeWidth":3.5,"strokeJoin":"round"},
"encoding":{
"x":{"field":"d","type":"temporal","scale":{"type":"utc","nice":false,"domain":[{"year":2020,"month":2,"date":5,"utc":true},{"year":2021,"month":11,"date":5,"utc":true}]},
"axis":{"orient":"bottom","title":null,"values":[{"year":2020,"month":2,"date":5,"utc":true},{"year":2020,"month":3,"date":5,"utc":true},{"year":2020,"month":4,"date":5,"utc":true},{"year":2020,"month":5,"date":5,"utc":true},{"year":2020,"month":6,"date":5,"utc":true},{"year":2020,"month":7,"date":5,"utc":true},{"year":2020,"month":8,"date":5,"utc":true},{"year":2020,"month":9,"date":5,"utc":true},{"year":2020,"month":10,"date":5,"utc":true},{"year":2020,"month":11,"date":5,"utc":true},{"year":2020,"month":12,"date":5,"utc":true},{"year":2021,"month":1,"date":5,"utc":true},{"year":2021,"month":2,"date":5,"utc":true},{"year":2021,"month":3,"date":5,"utc":true},{"year":2021,"month":4,"date":5,"utc":true},{"year":2021,"month":5,"date":5,"utc":true},{"year":2021,"month":6,"date":5,"utc":true},{"year":2021,"month":7,"date":5,"utc":true},{"year":2021,"month":8,"date":5,"utc":true},{"year":2021,"month":9,"date":5,"utc":true},{"year":2021,"month":10,"date":5,"utc":true},{"year":2021,"month":11,"date":5,"utc":true}],
"labelExpr":"utcFormat(datum.value,'%d') + ['ene','feb','mar','abr','may','jun','jul','ago','sep','oct','nov','dic'][utcmonth(datum.value)] + utcFormat(datum.value,'%y')",
"labelAngle":270,"labelFont":"Liberation Sans","labelFontSize":17,"labelColor":"black","labelPadding":14,"labelOverlap":false,"labelFlush":false,"labelBound":false,
"tickSize":-5,"tickColor":"black","domainColor":"black","domainWidth":1}},
"y":{"field":"v","type":"quantitative","scale":{"domain":[20,370],"nice":false,"zero":false},
"axis":{"orient":"left","values":[20,80,140,200,260,320],"labelFont":"DejaVu Sans","labelFontSize":16,"labelColor":"black","labelPadding":11,"tickSize":6,"tickColor":"#868686","domainColor":"#868686",
"title":"Puntos básicos","titleFont":"Liberation Sans","titleFontSize":18,"titleFontWeight":"bold","titleColor":"black","titlePadding":9}},
"color":{"field":"s","type":"nominal","scale":{"domain":["Chile","Mexico","Perú","Colombia","Brasil"],"range":["#4f93d5","#7f5483","#fc9a4e","#00b050","#c00000"]},
"legend":{"orient":"none","legendX":218,"legendY":414,"direction":"horizontal","title":null,"symbolType":"stroke","symbolSize":1400,"symbolStrokeWidth":3.5,"labelFont":"DejaVu Sans","labelFontSize":19,"labelColor":"black","labelOffset":3,"columnPadding":26,"labelLimit":400,"labelExpr":"datum.label == 'Brasil' ? 'Brasil (eje derecho)' : datum.label"}}
}
},
{
"data":{"name":"cds"},
"transform":[{"filter":{"field":"s","equal":"Brasil"}}],
"mark":{"type":"line","strokeWidth":3.5,"strokeJoin":"round"},
"encoding":{
"x":{"field":"d","type":"temporal","scale":{"type":"utc","nice":false,"domain":[{"year":2020,"month":2,"date":5,"utc":true},{"year":2021,"month":11,"date":5,"utc":true}]},"axis":null},
"y":{"field":"v","type":"quantitative","scale":{"domain":[-20,580],"nice":false,"zero":false},
"axis":{"orient":"right","values":[-20,80,180,280,380,480,580],"labelExpr":"'' + datum.value","labelFont":"DejaVu Sans","labelFontSize":16,"labelColor":"black","labelPadding":9,"tickSize":5,"tickColor":"#a0a0a0","domainColor":"#a0a0a0",
"title":"Brasil","titleAngle":270,"titleFont":"Liberation Sans","titleFontSize":18,"titleFontWeight":"bold","titleColor":"black","titlePadding":30}},
"color":{"field":"s","type":"nominal","scale":{"domain":["Chile","Mexico","Perú","Colombia","Brasil"],"range":["#4f93d5","#7f5483","#fc9a4e","#00b050","#c00000"]},
"legend":{"orient":"none","legendX":218,"legendY":414,"direction":"horizontal","title":null,"symbolType":"stroke","symbolSize":1400,"symbolStrokeWidth":3.5,"labelFont":"DejaVu Sans","labelFontSize":19,"labelColor":"black","labelOffset":3,"columnPadding":26,"labelLimit":400,"labelExpr":"datum.label == 'Brasil' ? 'Brasil (eje derecho)' : datum.label"}}
}
},
{
"data":{"values":[{}]},
"mark":{"type":"rect","fill":"white","fillOpacity":0,"stroke":"#a6a6a6","strokeWidth":3},
"encoding":{
"x":{"datum":{"year":2021,"month":10,"date":8,"utc":true},"type":"temporal","scale":{"type":"utc","nice":false,"domain":[{"year":2021,"month":10,"date":8,"utc":true},{"year":2021,"month":11,"date":5,"utc":true}],"range":[901,1151]},"axis":null},
"x2":{"datum":{"year":2021,"month":11,"date":5,"utc":true}},
"y":{"datum":10,"type":"quantitative","scale":{"domain":[10,305],"range":[112,0],"nice":false,"zero":false},"axis":null},
"y2":{"datum":305}
}
},
{
"data":{"name":"cds"},
"transform":[{"filter":{"field":"s","oneOf":["Chile","Mexico","Perú","Colombia"]}},{"filter":{"field":"d","gte":{"year":2021,"month":10,"date":8,"utc":true}}}],
"mark":{"type":"line","strokeWidth":3.5,"strokeJoin":"round"},
"encoding":{
"x":{"field":"d","type":"temporal","scale":{"type":"utc","nice":false,"domain":[{"year":2021,"month":10,"date":8,"utc":true},{"year":2021,"month":11,"date":5,"utc":true}],"range":[901,1151]},
"axis":{"orient":"bottom","offset":-225,"title":null,"zindex":1,"values":[{"year":2021,"month":10,"date":8,"utc":true},{"year":2021,"month":10,"date":12,"utc":true},{"year":2021,"month":10,"date":16,"utc":true},{"year":2021,"month":10,"date":20,"utc":true},{"year":2021,"month":10,"date":24,"utc":true},{"year":2021,"month":10,"date":28,"utc":true},{"year":2021,"month":11,"date":1,"utc":true},{"year":2021,"month":11,"date":5,"utc":true}],
"labelExpr":"utcFormat(datum.value,'%d') + '-' + ['ene','feb','mar','abr','may','jun','jul','ago','sep','oct','nov','dic'][utcmonth(datum.value)]",
"labelAngle":270,"labelFont":"Liberation Sans","labelFontSize":16,"labelColor":"black","labelPadding":11,"labelOverlap":false,"labelFlush":false,"labelBound":false,
"tickSize":-4,"tickColor":"black","domainColor":"black"}},
"y":{"field":"v","type":"quantitative","scale":{"domain":[10,305],"range":[112,0],"nice":false,"zero":false},
"axis":{"orient":"left","offset":-901,"title":null,"values":[10,90,170,250],"labelFont":"DejaVu Sans","labelFontSize":16,"labelColor":"black","labelPadding":4,"tickSize":4,"tickColor":"#a6a6a6","domain":false}},
"color":{"field":"s","type":"nominal","scale":{"domain":["Chile","Mexico","Perú","Colombia","Brasil"],"range":["#4f93d5","#7f5483","#fc9a4e","#00b050","#c00000"]},
"legend":{"orient":"none","legendX":218,"legendY":414,"direction":"horizontal","title":null,"symbolType":"stroke","symbolSize":1400,"symbolStrokeWidth":3.5,"labelFont":"DejaVu Sans","labelFontSize":19,"labelColor":"black","labelOffset":3,"columnPadding":26,"labelLimit":400,"labelExpr":"datum.label == 'Brasil' ? 'Brasil (eje derecho)' : datum.label"}}
}
},
{
"data":{"name":"cds"},
"transform":[{"filter":{"field":"s","equal":"Brasil"}},{"filter":{"field":"d","gte":{"year":2021,"month":10,"date":8,"utc":true}}}],
"mark":{"type":"line","strokeWidth":3.5,"strokeJoin":"round"},
"encoding":{
"x":{"field":"d","type":"temporal","scale":{"type":"utc","nice":false,"domain":[{"year":2021,"month":10,"date":8,"utc":true},{"year":2021,"month":11,"date":5,"utc":true}],"range":[901,1151]},"axis":null},
"y":{"field":"v","type":"quantitative","scale":{"domain":[0,300],"range":[112,0],"nice":false,"zero":false},
"axis":{"orient":"right","offset":-59,"title":null,"values":[0,100,200,300],"labelFont":"DejaVu Sans","labelFontSize":16,"labelColor":"black","labelPadding":12,"tickSize":4,"tickColor":"#868686","domain":false}},
"color":{"field":"s","type":"nominal","scale":{"domain":["Chile","Mexico","Perú","Colombia","Brasil"],"range":["#4f93d5","#7f5483","#fc9a4e","#00b050","#c00000"]},
"legend":{"orient":"none","legendX":218,"legendY":414,"direction":"horizontal","title":null,"symbolType":"stroke","symbolSize":1400,"symbolStrokeWidth":3.5,"labelFont":"DejaVu Sans","labelFontSize":19,"labelColor":"black","labelOffset":3,"columnPadding":26,"labelLimit":400,"labelExpr":"datum.label == 'Brasil' ? 'Brasil (eje derecho)' : datum.label"}}
}
},
{
"layer":[
{
"data":{"values":[{}]},
"mark":{"type":"rect","fill":"white","fillOpacity":0,"stroke":"black","strokeWidth":2},
"encoding":{
"x":{"datum":-0.55,"type":"quantitative","scale":{"domain":[0,7],"range":[301,805],"nice":false,"zero":false},"axis":null},
"x2":{"datum":7.5},
"y":{"datum":-0.85,"type":"quantitative","scale":{"domain":[0,7],"range":[3.5,122.5],"nice":false,"zero":false},"axis":null},
"y2":{"datum":7.65}
}
},
{
"data":{"name":"lineas"},
"mark":{"type":"rule","color":"black","strokeWidth":1},
"encoding":{
"x":{"field":"x0","type":"quantitative","scale":{"domain":[0,7],"range":[301,805],"nice":false,"zero":false},"axis":null},
"x2":{"field":"x1"},
"y":{"field":"y0","type":"quantitative","scale":{"domain":[0,7],"range":[3.5,122.5],"nice":false,"zero":false},"axis":null},
"y2":{"field":"y1"}
}
},
{
"data":{"name":"tabla"},
"mark":{"type":"text","font":"DejaVu Sans","fontSize":11.5,"color":"black","align":"center","baseline":"middle"},
"encoding":{
"x":{"field":"c","type":"quantitative","scale":{"domain":[0,7],"range":[301,805],"nice":false,"zero":false},"axis":null},
"y":{"field":"r","type":"quantitative","scale":{"domain":[0,7],"range":[3.5,122.5],"nice":false,"zero":false},"axis":null},
"text":{"field":"t","type":"nominal"}
}
}
]
}
],
"resolve":{"scale":{"x":"independent","y":"independent"},"axis":{"x":"independent","y":"independent"}}
}
